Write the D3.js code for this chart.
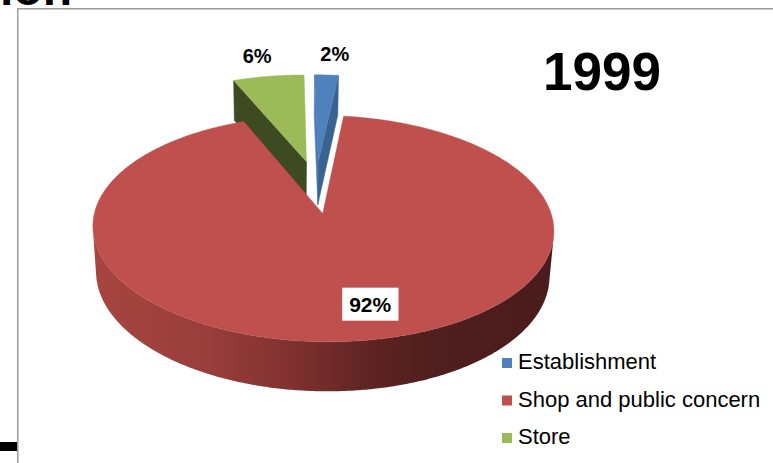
<!DOCTYPE html>
<html>
<head>
<meta charset="utf-8">
<script src="https://cdn.jsdelivr.net/npm/d3@7"></script>
<style>
  html, body { margin: 0; padding: 0; background: #fff; }
  svg { display: block; }
</style>
</head>
<body>
<script>
// ---- data ----
const categories = ["Establishment", "Shop and public concern", "Store"];
const shares = [2, 92, 6];
const yearLabel = "1999";

// ---- style ----
const W = 773, H = 463;
const FONT = "'Liberation Sans', Arial, Helvetica, sans-serif";
const topColors   = ["#4f81bd", "#c0504d", "#9bbb59"];
const startFace   = ["#4a78b0", "#8c3836", "#3e4a22"];
const endFace     = ["#3a6391", "#8c3836", "#7a9445"];
// explosion of each slice (radius fraction, direction in degrees; null = slice middle)
const explode = [{ e: 0.30, dir: 3 }, { e: 0.20, dir: null }, { e: 0.30, dir: 352.4 }];

// ---- 3D projection of a unit pie (X right, Y up, Z away from viewer) ----
const sinP = 0.474, cosP = 0.880, persp = 0.148, Kx = 222.5;
const vx = 285, vy = 192, xoff = 0.14, thick = 0.23;
function proj(X, Y, Z) {
  const w = 1 + persp * (Z * cosP - Y * sinP);
  return [vx + Kx * (X + xoff) / w, vy - Kx * (Y * cosP + Z * sinP) / w];
}
const cam = [-xoff, sinP / persp, -cosP / persp];
const facing = (n, p) => n[0] * (cam[0] - p[0]) + n[1] * (cam[1] - p[1]) + n[2] * (cam[2] - p[2]) > 0;

const svg = d3.select("body").append("svg").attr("width", W).attr("height", H);
const defs = svg.append("defs");

// slide text partly hidden behind the chart frame
svg.append("text").attr("x", 0).attr("y", 5)
  .attr("font-family", FONT).attr("font-weight", "bold").attr("font-size", 48)
  .attr("fill", "#000").text("ion");
svg.append("rect").attr("x", 0).attr("y", 442).attr("width", 17).attr("height", 9).attr("fill", "#000");

// chart frame
svg.append("rect").attr("x", 17.75).attr("y", 8.75).attr("width", 800).attr("height", 500)
  .attr("fill", "#fff").attr("stroke", "#9c9c9c").attr("stroke-width", 1.5);

// side shading of the large slice
const grad = defs.append("linearGradient").attr("id", "sideRed")
  .attr("gradientUnits", "userSpaceOnUse").attr("x1", 93).attr("x2", 553).attr("y1", 0).attr("y2", 0);
[[0, "#a8453f"], [0.25, "#983e3b"], [0.45, "#7d302e"], [0.6, "#5e2423"], [0.75, "#4f1e1e"], [1, "#4b1c1c"]]
  .forEach(([o, c]) => grad.append("stop").attr("offset", o).attr("stop-color", c));
const wallFill = ["#34557d", "url(#sideRed)", "#677d3b"];

const pie = d3.pie().sort(null).startAngle(0).endAngle(2 * Math.PI);
const arcs = pie(shares);
const line = d3.line();
const DEG = Math.PI / 180;

const slices = arcs.map((d, i) => {
  const mid = (d.startAngle + d.endAngle) / 2;
  const dir = explode[i].dir == null ? mid : explode[i].dir * DEG;
  const ex = explode[i].e * Math.sin(dir), ez = explode[i].e * Math.cos(dir);
  const rim = (a, Y) => [ex + Math.sin(a), Y, ez + Math.cos(a)];
  return { d, i, mid, ex, ez, rim };
});
// far slices first
slices.sort((a, b) => (b.ez + Math.cos(b.mid) * 0.5) - (a.ez + Math.cos(a.mid) * 0.5));

const g = svg.append("g");
slices.forEach(s => {
  const { d, i, ex, ez, rim } = s;
  const a0 = d.startAngle, a1 = d.endAngle;
  const apexT = [ex, 0, ez], apexB = [ex, -thick, ez];
  const P = p => proj(p[0], p[1], p[2]);

  // radial faces
  const faces = [
    { a: a0, n: [-Math.cos(a0), 0, Math.sin(a0)], fill: startFace[i] },
    { a: a1, n: [Math.cos(a1), 0, -Math.sin(a1)], fill: endFace[i] }
  ];
  faces.forEach(f => {
    const mp = [ex + Math.sin(f.a) * 0.5, -thick / 2, ez + Math.cos(f.a) * 0.5];
    if (!facing(f.n, mp)) return;
    const pts = [apexT, rim(f.a, 0), rim(f.a, -thick), apexB].map(P);
    g.append("path").attr("d", line(pts) + "Z").attr("fill", f.fill)
      .attr("stroke", f.fill).attr("stroke-width", 0.5);
  });

  // outer wall, only where it faces the viewer
  const n = Math.max(2, Math.ceil((a1 - a0) / (0.5 * DEG)));
  const step = (a1 - a0) / n;
  let runs = [], cur = null;
  for (let k = 0; k < n; k++) {
    const am = a0 + (k + 0.5) * step;
    const vis = facing([Math.sin(am), 0, Math.cos(am)], rim(am, -thick / 2));
    if (vis) { if (!cur) { cur = [a0 + k * step, 0]; runs.push(cur); } cur[1] = a0 + (k + 1) * step; }
    else cur = null;
  }
  runs.forEach(([b0, b1]) => {
    const m = Math.max(2, Math.ceil((b1 - b0) / (0.5 * DEG)));
    const top = d3.range(m + 1).map(k => P(rim(b0 + (b1 - b0) * k / m, 0)));
    const bot = d3.range(m + 1).map(k => P(rim(b1 - (b1 - b0) * k / m, -thick)));
    g.append("path").attr("d", line(top.concat(bot)) + "Z").attr("fill", wallFill[i]);
  });

  // top face
  const m = Math.max(2, Math.ceil((a1 - a0) / (0.5 * DEG)));
  const arcPts = d3.range(m + 1).map(k => P(rim(a0 + (a1 - a0) * k / m, 0)));
  g.append("path").attr("d", line([P(apexT)].concat(arcPts)) + "Z").attr("fill", topColors[i])
    .attr("stroke", topColors[i]).attr("stroke-width", 0.4);
});

// percentage labels
const total = d3.sum(shares);
const labelPlace = [{ rho: 1.28, da: 1.5 }, { rho: 0.755, da: -5.9 }, { rho: 1.28, da: -0.5 }];
slices.slice().sort((a, b) => a.i - b.i).forEach(s => {
  const i = s.i, lp = labelPlace[i];
  const a = s.mid + lp.da * DEG;
  const [x, y] = proj(s.ex + lp.rho * Math.sin(a), 0, s.ez + lp.rho * Math.cos(a));
  const txt = Math.round(shares[i] / total * 100) + "%";
  const lg = svg.append("g");
  const t = lg.append("text").attr("x", x).attr("y", y).attr("dy", "0.36em")
    .attr("text-anchor", "middle").attr("font-family", FONT).attr("font-weight", "bold")
    .attr("font-size", i === 1 ? 21 : 20).attr("fill", "#000").text(txt);
  if (i === 1) {
    const bb = t.node().getBBox();
    lg.insert("rect", "text").attr("x", bb.x - 7).attr("y", bb.y - 5)
      .attr("width", bb.width + 14).attr("height", bb.height + 10).attr("fill", "#fff");
  }
});

// year
svg.append("text").attr("x", 543).attr("y", 90)
  .attr("font-family", FONT).attr("font-weight", "bold").attr("font-size", 53)
  .attr("fill", "#000").text(yearLabel);

// legend
const legend = svg.append("g").attr("transform", "translate(502,369)");
categories.forEach((c, i) => {
  const row = legend.append("g").attr("transform", `translate(0,${i * 37.5})`);
  row.append("rect").attr("x", 0).attr("y", -11).attr("width", 10).attr("height", 10).attr("fill", topColors[i]);
  row.append("text").attr("x", 16).attr("y", 0).attr("font-family", FONT).attr("font-size", 22)
    .attr("fill", "#000").text(c);
});
</script>
</body>
</html>
